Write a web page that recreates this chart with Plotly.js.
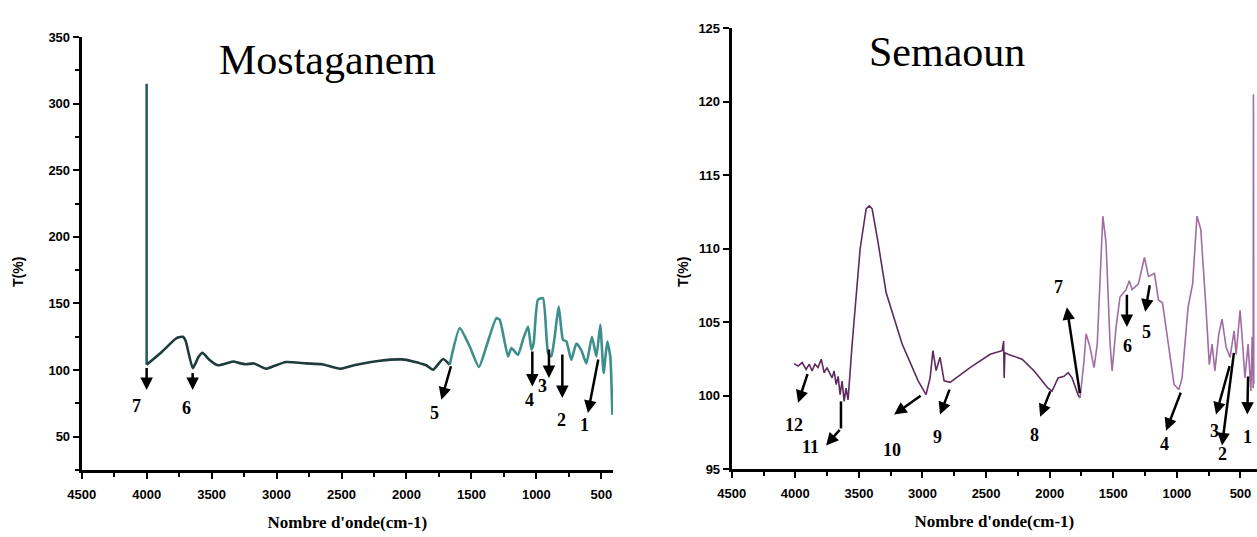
<!DOCTYPE html>
<html>
<head>
<meta charset="utf-8">
<script src="https://cdn.plot.ly/plotly-3.0.1.min.js"></script>
<style>html,body{margin:0;padding:0;background:#fff;}#chart{width:1257px;height:537px;}</style>
</head>
<body>
<div id="chart"></div>
<script>
// ---------- Data: Mostaganem spectrum ----------
var mostWave = [4000, 4000, 3880, 3770, 3720, 3700, 3645, 3600, 3570, 3520, 3452, 3390, 3329, 3298, 3236, 3174, 3082, 3020, 2928, 2774, 2650, 2512, 2404, 2204, 2034, 1949, 1849, 1795, 1718, 1667, 1590, 1513, 1442, 1385, 1308, 1282, 1218, 1192, 1141, 1103, 1064, 1038, 1021, 988, 949, 910, 885, 859, 828, 795, 769, 731, 692, 654, 615, 572, 538, 508, 482, 454, 431, 415];
var mostT    = [315, 104, 114, 124, 125, 122, 101.5, 110, 113, 108, 103.6, 105, 106.4, 105.6, 104.4, 105, 101, 103, 106, 105, 104.4, 101, 103.6, 107, 108, 106.5, 103.6, 100.3, 108.3, 104, 131.5, 117.7, 102.3, 117.7, 139, 137.8, 110.2, 116.5, 111.5, 122.8, 132.7, 115.3, 120, 152.8, 154, 112.8, 110.2, 125, 147.7, 122.8, 121.5, 107.7, 120, 115, 105, 125, 110.2, 134, 97.8, 121.5, 110.2, 66.5];

// ---------- Data: Semaoun spectrum ----------
var semWave = [4009, 3978, 3946, 3915, 3890, 3868, 3846, 3821, 3796, 3773, 3751, 3726, 3711, 3695, 3679, 3663, 3648, 3632, 3616, 3601, 3585, 3553, 3522, 3490, 3443, 3418, 3396, 3349, 3286, 3160, 3034, 2972, 2940, 2918, 2893, 2862, 2830, 2783, 2626, 2468, 2374, 2362, 2358, 2352, 2327, 2217, 2122, 2013, 1981, 1934, 1887, 1855, 1824, 1777, 1761, 1730, 1714, 1683, 1651, 1626, 1582, 1557, 1525, 1509, 1478, 1447, 1400, 1374, 1352, 1302, 1255, 1223, 1176, 1145, 1113, 1066, 1022, 984, 959, 912, 876, 842, 812, 770, 745, 723, 701, 670, 645, 613, 582, 566, 550, 534, 503, 487, 465, 440, 418, 408, 400, 398, 395];
var semT    = [102.17, 102.0, 102.24, 101.78, 102.13, 101.67, 102.13, 101.9, 102.47, 101.55, 101.9, 101.44, 101.2, 101.67, 100.75, 101.3, 100.06, 100.98, 99.6, 100.5, 99.71, 103.5, 107, 110, 112.7, 112.9, 112.7, 110.4, 107, 103.5, 101, 100.06, 101.2, 103.05, 101.7, 102.6, 101, 100.9, 101.9, 102.8, 103.05, 103.7, 101.2, 102.9, 102.8, 102.47, 101.67, 100.5, 100.3, 101.2, 101.3, 101.55, 101.2, 100.06, 99.83, 102.35, 104.2, 103.3, 101.9, 103.5, 112.2, 110.4, 103.5, 101.67, 104.65, 106.7, 107.2, 107.8, 107.2, 107.6, 109.4, 108.1, 108.3, 106.5, 106.3, 103.5, 100.75, 100.4, 101.2, 106, 107.6, 112.2, 111.3, 105.8, 102.1, 103.5, 101.67, 104.2, 105.2, 103.3, 102.6, 103.5, 104.4, 102.8, 105.8, 104, 101.2, 103.5, 100.3, 104, 100.5, 120.5, 100.8];

// ---------- Peak markers (label, arrow tail, arrow head, label position) ----------
var mostLabels = ["7", "6", "5", "4", "3", "2", "1"];
var mostTailX  = [4000, 3646, 1654, 1031, 903, 800, 521];
var mostTailY  = [102.7, 99, 104, 115, 116.5, 112.8, 109];
var mostHeadX  = [4000, 3646, 1731, 1031, 903, 800, 603];
var mostHeadY  = [85, 85, 77.7, 87.7, 94, 79, 67.8];
var mostLabX   = [4077, 3692, 1782, 1052, 949, 808, 628];
var mostLabY   = [73, 71.7, 68, 77.7, 87.7, 62.7, 59];

var semLabels = ["12", "11", "10", "9", "8", "7", "6", "5", "4", "3", "2", "1"];
var semTailX  = [3900, 3641, 3003, 2783, 1990, 1761, 1393, 1211, 965, 582, 550, 440];
var semTailY  = [101.55, 97.76, 100.06, 100.5, 100.4, 100.06, 106.95, 107.6, 100.3, 102.1, 103, 101.4];
var semHeadX  = [3978, 3758, 3223, 2862, 2075, 1865, 1393, 1249, 1085, 692, 645, 446];
var semHeadY  = [99.5, 96.6, 98.7, 98.7, 98.56, 106, 104.66, 105.7, 97.6, 98.7, 96.6, 98.7];
var semLabX   = [4009, 3884, 3239, 2883, 2116, 1934, 1390, 1242, 1101, 701, 645, 446];
var semLabY   = [98.0, 96.5, 96.26, 97.2, 97.3, 107.4, 103.4, 104.3, 96.7, 97.6, 96.0, 97.2];

// ---------- Build traces ----------
function splitAt(xs, ys, cut, startIdx) {
  var a = {x: [], y: []}, b = {x: [], y: []};
  for (var i = startIdx; i < xs.length; i++) { if (xs[i] >= cut) { a.x.push(xs[i]); a.y.push(ys[i]); } }
  var lastIdx = a.x.length - 1;
  b.x.push(a.x[lastIdx]); b.y.push(a.y[lastIdx]);
  for (var j = startIdx; j < xs.length; j++) { if (xs[j] < cut) { b.x.push(xs[j]); b.y.push(ys[j]); } }
  return [a, b];
}
var mp = splitAt(mostWave, mostT, 1667, 1);   // smooth part starts after the sharp spike
var sp = splitAt(semWave, semT, 1761, 0);

var traces = [
  {x: mostWave.slice(0, 2), y: mostT.slice(0, 2), xaxis: 'x', yaxis: 'y', mode: 'lines', line: {color: '#2a5f5f', width: 2.6}, hoverinfo: 'skip'},
  {x: mp[0].x, y: mp[0].y, xaxis: 'x', yaxis: 'y', mode: 'lines', line: {color: '#1f3b3b', width: 2.6, shape: 'spline', smoothing: 0.5}, hoverinfo: 'skip'},
  {x: mp[1].x, y: mp[1].y, xaxis: 'x', yaxis: 'y', mode: 'lines', line: {color: '#3f8e8e', width: 2.6, shape: 'spline', smoothing: 0.5}, hoverinfo: 'skip'},
  {x: sp[0].x, y: sp[0].y, xaxis: 'x2', yaxis: 'y2', mode: 'lines', line: {color: '#5e2a5e', width: 1.6}, hoverinfo: 'skip'},
  {x: sp[1].x, y: sp[1].y, xaxis: 'x2', yaxis: 'y2', mode: 'lines', line: {color: '#a26ca2', width: 1.6}, hoverinfo: 'skip'}
];

var tickFont = {family: 'Liberation Sans, Arial, sans-serif', size: 13, color: '#000', weight: 'bold'};
var numFont = {family: 'Liberation Serif, Times New Roman, serif', size: 18, color: '#000', weight: 'bold'};
var titleFont = {family: 'Liberation Serif, Times New Roman, serif', size: 42, color: '#000'};
var yTitleFont = {family: 'Liberation Sans, Arial, sans-serif', size: 14, color: '#000', weight: 'bold'};

var annotations = [];
function addMarks(labels, tx, ty, hx, hy, lx, ly, xr, yr) {
  for (var i = 0; i < labels.length; i++) {
    annotations.push({xref: xr, yref: yr, axref: xr, ayref: yr, x: hx[i], y: hy[i], ax: tx[i], ay: ty[i],
      text: '', showarrow: true, arrowhead: 2, arrowsize: 1, arrowwidth: 2.5, arrowcolor: '#000'});
    annotations.push({xref: xr, yref: yr, x: lx[i], y: ly[i], text: labels[i], showarrow: false, font: numFont});
  }
}
addMarks(mostLabels, mostTailX, mostTailY, mostHeadX, mostHeadY, mostLabX, mostLabY, 'x', 'y');
addMarks(semLabels, semTailX, semTailY, semHeadX, semHeadY, semLabX, semLabY, 'x2', 'y2');

annotations.push({xref: 'paper', yref: 'paper', x: 327 / 1257, y: 1 - 60 / 537, xanchor: 'center', yanchor: 'middle',
  text: 'Mostaganem', showarrow: false, font: titleFont});
annotations.push({xref: 'paper', yref: 'paper', x: 947 / 1257, y: 1 - 52 / 537, xanchor: 'center', yanchor: 'middle',
  text: 'Semaoun', showarrow: false, font: titleFont});
// y-axis titles
annotations.push({xref: 'paper', yref: 'paper', x: 18 / 1257, y: 1 - 272 / 537, xanchor: 'center', yanchor: 'middle',
  text: 'T(%)', textangle: -90, showarrow: false, font: yTitleFont});
annotations.push({xref: 'paper', yref: 'paper', x: 683 / 1257, y: 1 - 272 / 537, xanchor: 'center', yanchor: 'middle',
  text: 'T(%)', textangle: -90, showarrow: false, font: yTitleFont});

var shapes = [
  {type: 'line', xref: 'x2', yref: 'y2', x0: 3641, y0: 99.6, x1: 3641, y1: 97.76, line: {color: '#000', width: 2.5}}
];

function xAxis(domain, range, anchor) {
  return {domain: domain, range: range, anchor: anchor, showline: true, linewidth: 3, linecolor: '#000',
    ticks: 'outside', ticklen: 6, tickwidth: 2, tickcolor: '#000', dtick: 500, tick0: 0, ticklabelstandoff: 4,
    minor: {ticks: 'outside', dtick: 250, tick0: 0, ticklen: 4, tickwidth: 2, tickcolor: '#000', showgrid: false},
    showgrid: false, zeroline: false, tickfont: tickFont,
    title: {text: "Nombre d'onde(cm-1)", standoff: 16, font: {family: 'Liberation Serif, Times New Roman, serif', size: 17, color: '#000', weight: 'bold'}}};
}
function yAxis(domain, range, dtick, minorD, anchor) {
  return {domain: domain, range: range, anchor: anchor, showline: true, linewidth: 3, linecolor: '#000',
    ticks: 'outside', ticklen: 6, tickwidth: 2, tickcolor: '#000', dtick: dtick, tick0: 0,
    minor: {ticks: 'outside', dtick: minorD, tick0: 0, ticklen: 4, tickwidth: 2, tickcolor: '#000', showgrid: false},
    showgrid: false, zeroline: false, tickfont: tickFont};
}

var layout = {
  width: 1257, height: 537,
  margin: {l: 0, r: 0, t: 0, b: 0},
  paper_bgcolor: '#fff', plot_bgcolor: '#fff',
  showlegend: false,
  xaxis: xAxis([81.7 / 1257, 613 / 1257], [4500, 410], 'y'),
  yaxis: yAxis([1 - 470 / 537, 1 - 37 / 537], [25, 350], 50, 25, 'x'),
  xaxis2: xAxis([731.7 / 1257, 1], [4500, 370], 'y2'),
  yaxis2: yAxis([1 - 469 / 537, 1 - 28 / 537], [95, 125], 5, 5, 'x2'),
  annotations: annotations,
  shapes: shapes
};

Plotly.newPlot('chart', traces, layout, {displayModeBar: false, staticPlot: true});
</script>
</body>
</html>
